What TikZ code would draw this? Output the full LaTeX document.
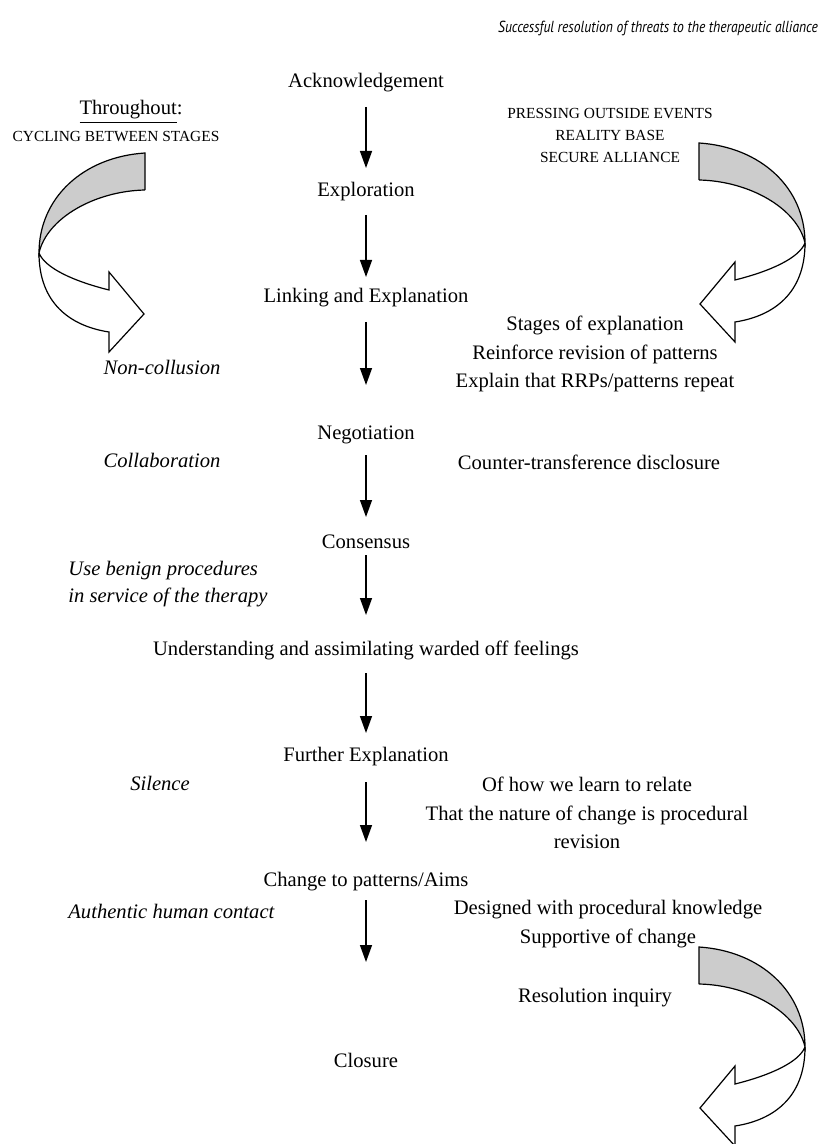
\documentclass[tikz,border=0pt]{standalone}
\usepackage{fontspec}
\setmainfont{Liberation Serif}
\newfontfamily\titlefont[FakeStretch=0.85]{PT Sans}
\usetikzlibrary{arrows.meta}

% ribbon arrow, drawn in pixel units, pointing back to the left
\tikzset{
  ribbon/.style={draw=black,line width=0.6pt},
  pics/twistarrow/.style={code={
    \fill[black!20] (0,0) .. controls (62,4) and (106,45) .. (106,100)
      .. controls (98,65) and (50,38) .. (0,37) -- cycle;
    \draw[ribbon] (0,37) -- (0,0) .. controls (62,4) and (106,45) .. (106,100)
      .. controls (98,65) and (50,38) .. (0,37);
    \draw[ribbon,fill=white] (106,100) .. controls (106,150) and (75,173) .. (36,179)
      -- (36,199) -- (1,161) -- (36,119) -- (36,137)
      .. controls (72,128) and (100,115) .. (106,100);
  }}
}

\begin{document}
\begin{tikzpicture}[
    x=0.5pt,y=-0.5pt,
    every node/.style={inner sep=0pt},
    stage/.style={font=\fontsize{10.3}{14.3}\selectfont,align=center},
    note/.style={font=\fontsize{10.3}{14.3}\selectfont,align=center},
    side/.style={font=\fontsize{10.3}{13.6}\selectfont\itshape,align=left},
    caps/.style={font=\fontsize{7.7}{11}\selectfont,align=center},
    flow/.style={-{Triangle[width=6pt,length=8.5pt]},line width=0.7pt}
  ]
    \useasboundingbox (0,0) rectangle (830,1144);

    % Title
    \node[font=\titlefont\fontsize{8}{9.6}\selectfont\itshape] (title) at (658,28)
      {Successful resolution of threats to the therapeutic alliance};

    % Stages
    \node[stage] (ack)   at (366,83)   {Acknowledgement};
    \node[stage] (expl)  at (366,192)  {Exploration};
    \node[stage] (link)  at (366,298)  {Linking and Explanation};
    \node[stage] (neg)   at (366,435)  {Negotiation};
    \node[stage] (cons)  at (366,542)  {Consensus};
    \node[stage] (und)   at (366,650)  {Understanding and assimilating warded off feelings};
    \node[stage] (furth) at (366,757)  {Further Explanation};
    \node[stage] (chg)   at (366,882)  {Change to patterns/Aims};
    \node[stage] (clo)   at (366,1060) {Closure};

    % Left side
    \node[note] (thru) at (131,112) {\underline{Throughout}:};
    \node[caps] (cyc)  at (116,137) {CYCLING BETWEEN STAGES};
    \node[side] (noncol)  at (162,367) {Non-collusion};
    \node[side] (collab)  at (162,460) {Collaboration};
    \node[side,anchor=west] (benign) at (68,584)
      {Use benign procedures\\in service of the therapy};
    \node[side] (silence) at (160,783) {Silence};
    \node[side,anchor=west] (authentic) at (68,911) {Authentic human contact};

    % Right side
    \node[caps] (press) at (610,135) {PRESSING OUTSIDE EVENTS\\REALITY BASE\\SECURE ALLIANCE};
    \node[note] (stages)   at (595,354) {Stages of explanation\\Reinforce revision of patterns\\Explain that RRPs/patterns repeat};
    \node[note] (counter)  at (589,462) {Counter-transference disclosure};
    \node[note] (ofhow)    at (587,813) {Of how we learn to relate\\That the nature of change is procedural\\revision};
    \node[note] (designed) at (608,924) {Designed with procedural knowledge\\Supportive of change};
    \node[note] (resolve)  at (595,998) {Resolution inquiry};

    % Ribbon arrows
    \pic[xscale=-1] at (145,153) {twistarrow};
    \pic at (699,143) {twistarrow};
    \pic at (699,947) {twistarrow};

    % Arrows
    \draw[flow,shorten <=12pt,shorten >=12pt]   (ack.center) -- (expl.center);
    \draw[flow,shorten <=11.5pt,shorten >=10.5pt] (expl.center) -- (link.center);
    \draw[flow,shorten <=12pt,shorten >=25pt]   (link.center) -- (neg.center);
    \draw[flow,shorten <=10pt,shorten >=12.5pt] (neg.center) -- (cons.center);
    \draw[flow,shorten <=6.5pt,shorten >=17.5pt] (cons.center) -- (und.center);
    \draw[flow,shorten <=11.5pt,shorten >=12pt] (und.center) -- (furth.center);
    \draw[flow,shorten <=12.5pt,shorten >=20pt] (furth.center) -- (chg.center);
    \draw[flow,shorten <=9pt,shorten >=49pt]    (chg.center) -- (clo.center);
  \end{tikzpicture}
\end{document}
